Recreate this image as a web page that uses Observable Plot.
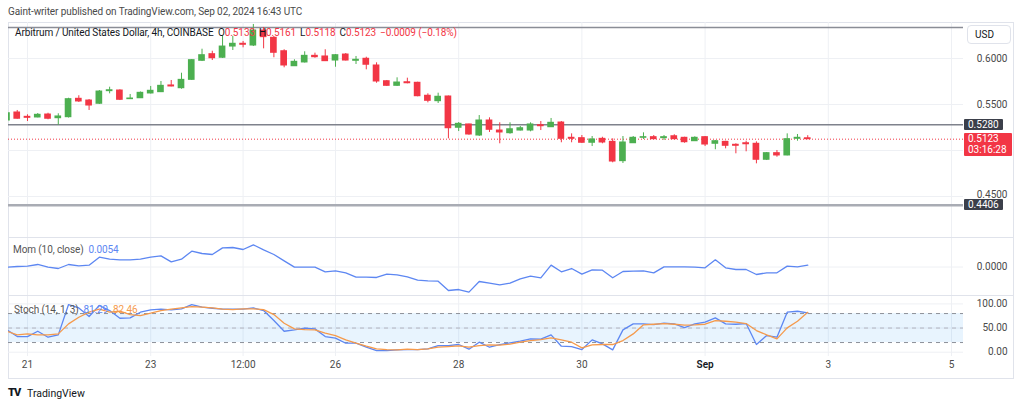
<!DOCTYPE html>
<html><head><meta charset="utf-8">
<script src="https://cdn.jsdelivr.net/npm/d3@7"></script>
<script src="https://cdn.jsdelivr.net/npm/@observablehq/plot@0.6"></script>
<style>
body{margin:0;background:#fff;font-family:Roboto,"Open Sans",sans-serif;width:1024px;height:406px;overflow:hidden;position:relative;}
.abs{position:absolute;white-space:nowrap;}
.lg{font-size:10px;line-height:12px;letter-spacing:-0.1px;}
.badge{position:absolute;color:#fff;font-size:10px;line-height:11px;padding:0 0 0 4px;box-sizing:border-box;}
#ohlc{display:flex;gap:4px;}
</style></head><body>
<div class="abs" style="left:8px;top:6px;font-size:10px;letter-spacing:-0.1px;color:#4a4a4a">Gaint-writer published on TradingView.com, Sep 02, 2024 16:43 UTC</div>
<div class="abs" style="left:8px;top:22px;width:1004px;height:355px;border:1px solid #e0e3eb"></div>
<div class="abs" style="left:8px;top:237px;width:1005px;height:1px;background:#e0e3eb"></div>
<div class="abs" style="left:8px;top:295px;width:1005px;height:1px;background:#e0e3eb"></div>
<div id="price" class="abs" style="left:8px;top:22px"></div>
<div id="mom" class="abs" style="left:8px;top:238px"></div>
<div id="stoch" class="abs" style="left:8px;top:296px"></div>
<div id="overlay"></div>
<div class="abs lg" style="left:15px;top:27px;color:#131722">Arbitrum / United States Dollar, 4h, COINBASE</div>
<div id="ohlc" class="abs lg" style="left:218px;top:27px;color:#131722"></div>
<div class="abs lg" style="left:13px;top:244px;color:#555">Mom (10, close)&nbsp;&nbsp;<span style="color:#5d87f2">0.0054</span></div>
<div class="abs lg" style="left:14px;top:304px;color:#555">Stoch (14, 1, 3)&nbsp;&nbsp;<span style="color:#5d87f2">81.29</span>&nbsp;&nbsp;<span style="color:#f59a4c">82.46</span></div>
<div class="abs" style="left:967px;top:25px;width:44px;height:19px;border:1px solid #e0e3eb;border-radius:4px;box-sizing:border-box;font-size:10px;line-height:17px;padding-left:7px;color:#131722">USD</div>
<div class="abs" style="left:8px;top:386px;font-size:11px;font-weight:900;color:#131722;letter-spacing:-1px">TV</div>
<div class="abs" style="left:27px;top:387px;font-size:10.5px;color:#131722">TradingView</div>
<script>
// ---- data ----
const firstBar = "2024-08-20T16:00:00Z";
const barHours = 4;
const open  = [.5326,.5413,.5366,.5359,.5391,.5351,.5362,.5562,.5543,.5508,.5645,.5652,.5558,.5568,.5620,.5634,.5707,.5677,.5768,.5975,
               .6047,.6008,.6130,.6160,.6141,.6304,.6225,.6079,.5916,.5957,.6029,.6022,.5978,.6043,.5975,.5997,.5924,.5753,.5703,.5742,
               .5736,.5595,.5536,.5587,.5247,.5283,.5163,.5326,.5217,.5188,.5217,.5217,.5275,.5253,.5304,.5138,.5134,.5084,.5127,.5094,
               .4884,.5079,.5138,.5145,.5134,.5155,.5138,.5101,.5145,.5073,.5094,.5062,.5079,.5073,.4899,.4971,.4946,.5127,.5133];
const high  = [.5413,.5435,.5388,.5402,.5405,.5399,.5568,.5595,.5554,.5652,.5688,.5660,.5609,.5636,.5696,.5750,.5761,.5840,.5989,.6101,
               .6079,.6242,.6242,.6185,.6370,.6337,.6239,.6095,.5986,.6073,.6058,.6095,.6043,.6054,.6022,.6014,.5953,.5761,.5790,.5786,
               .5742,.5616,.5623,.5592,.5304,.5286,.5380,.5355,.5301,.5301,.5261,.5301,.5315,.5348,.5315,.5181,.5163,.5152,.5144,.5127,
               .5152,.5152,.5192,.5163,.5163,.5171,.5144,.5149,.5152,.5109,.5101,.5073,.5101,.5094,.4978,.5000,.5181,.5174,.5161];
const low   = [.5315,.5340,.5315,.5355,.5334,.5275,.5353,.5522,.5435,.5500,.5616,.5543,.5554,.5565,.5614,.5630,.5692,.5666,.5761,.5967,
               .5978,.6000,.6087,.6116,.6130,.6105,.6008,.5899,.5913,.5951,.6003,.5967,.5905,.5973,.5935,.5877,.5731,.5696,.5696,.5725,
               .5584,.5518,.5511,.5127,.5206,.5166,.5152,.5196,.5073,.5177,.5212,.5203,.5217,.5250,.5084,.5084,.5076,.5043,.5073,.4866,
               .4859,.5076,.5120,.5120,.5109,.5116,.5079,.5098,.5043,.5008,.5018,.4964,.4986,.4855,.4891,.4927,.4942,.5101,.5118];
const close = [.5405,.5345,.5355,.5388,.5345,.5370,.5558,.5533,.5489,.5641,.5655,.5551,.5565,.5627,.5649,.5703,.5696,.5768,.5982,.6036,
               .6003,.6130,.6160,.6149,.6304,.6232,.6062,.5924,.5964,.6029,.6014,.5971,.6036,.5978,.5986,.5932,.5750,.5703,.5739,.5731,
               .5590,.5540,.5584,.5242,.5290,.5174,.5326,.5225,.5196,.5231,.5242,.5283,.5264,.5301,.5127,.5127,.5084,.5120,.5087,.4880,
               .5087,.5138,.5145,.5123,.5145,.5123,.5090,.5138,.5065,.5101,.5051,.5051,.5068,.4899,.4971,.4946,.5123,.5138,.5123];
const momentum = [-.0005,.0015,.0025,.0075,-.0005,-.0045,.0075,.0035,.0055,.0294,.0234,.0214,.0214,.0234,.0294,.0333,.0154,.0234,.0473,.0403,
               .0373,.0572,.0582,.0522,.0662,.0512,.0373,.0184,-.0005,-.0005,-.0005,-.0144,-.0114,-.0174,-.0303,-.0303,-.0313,-.0214,-.0234,-.0294,
               -.0393,-.0413,-.0423,-.0701,-.0672,-.0751,-.0433,-.0483,-.0532,-.0483,-.0353,-.0274,-.0323,.0055,-.0144,-.0045,-.0214,-.0085,-.0095,-.0323,
               -.0134,-.0124,-.0114,-.0174,.0005,.0005,.0005,-.0005,-.0025,.0214,-.0025,-.0075,-.0075,-.0224,-.0174,-.0174,.0025,.0005,.0054];
const stochK = [46.2,32.4,32.4,43.4,31.0,35.9,98.6,91.7,73.8,96.6,86.2,70.3,71.0,82.8,87.6,89.0,87.6,89.7,98.6,93.1,
               91.0,89.0,89.0,89.0,91.7,86.2,65.5,43.4,46.2,49.7,48.3,32.4,29.0,18.6,18.6,10.3,3.4,3.4,4.8,5.5,
               5.5,6.9,13.8,13.8,15.9,6.2,20.7,10.3,15.9,19.3,22.8,27.6,26.9,35.9,12.4,11.7,5.5,25.5,17.2,4.8,
               46.2,58.6,58.6,57.2,60.0,58.6,51.0,58.6,62.1,71.0,58.6,57.9,59.3,15.9,34.5,31.0,82.8,84.8,81.29];
const stochD = [43.4,35.9,37.9,35.9,35.9,37.9,58.6,72.4,82.8,89.0,82.8,84.8,77.9,75.9,80.7,86.2,89.0,91.7,94.5,93.1,
               91.7,89.0,88.3,89.7,89.7,88.3,77.9,60.0,48.3,46.9,46.2,39.3,34.5,25.5,18.6,12.4,6.9,5.5,4.8,6.2,
               5.5,6.9,10.3,11.7,13.1,10.3,13.8,15.2,14.5,16.6,20.7,24.1,26.2,29.7,25.5,20.7,9.0,15.2,15.9,15.9,
               24.1,37.9,56.6,57.9,59.3,57.9,55.9,56.6,57.9,65.5,64.1,62.1,59.3,44.8,35.9,27.6,50.3,64.1,82.46];
const levelTop = 0.6337, levelResistance = 0.5280, levelSupport = 0.4406;
const lastOHLC = [["O", "0.5133"], ["H", "0.5161"], ["L", "0.5118"], ["C", "0.5123"]];
const lastChange = "−0.0009 (−0.18%)";
const countdown = "03:16:28";
const priceGrid = [0.60, 0.55, 0.50, 0.45];
const priceLabels = [0.60, 0.55, 0.45];
const stochLabels = [100, 50, 0];
const stochBands = [80, 50, 20];
const dateTicks = ["2024-08-21","2024-08-23","2024-08-24T12:00","2024-08-26","2024-08-28","2024-08-30","2024-09-01","2024-09-03","2024-09-05"];
const dateLabels = ["21","23","12:00","26","28","30","Sep","3","5"];

// ---- build ----
const t0 = +new Date(firstBar);
const bars = close.map((c, i) => ({t: new Date(t0 + i*barHours*3600e3), o: open[i], h: high[i], l: low[i], c, m: momentum[i], k: stochK[i], d: stochD[i]}));
const ticks = dateTicks.map(s => new Date(s + "Z"));
const tickRows = ticks.map((t, i) => ({t, label: dateLabels[i]}));
const GREEN = "#4caf50", RED = "#f23645", GRID = "#eef0f4", BLUE = "#5d87f2", ORANGE = "#f59a4c", TXT = "#4a4a4a";
const colorOf = d => d.c >= d.o ? GREEN : RED;
const half = 1.3*3600e3;
const xDomain = [new Date("2024-08-20T16:36:00Z"), new Date("2024-09-05T04:41:00Z")];
const common = {width: 1005, marginLeft: 0, marginRight: 50, marginTop: 0,
  style: {fontFamily: "Roboto, sans-serif", fontSize: "10px", background: "transparent", overflow: "visible"},
  color: {type: "identity"}};
const xOpt = {type: "utc", domain: xDomain, axis: null};

const price = Plot.plot({...common, height: 215, marginBottom: 0, x: xOpt,
  y: {domain: [0.40543, 0.63913], axis: null},
  marks: [
    Plot.ruleX(ticks, {stroke: GRID}),
    Plot.ruleY(priceGrid, {stroke: GRID}),
    Plot.ruleY([levelTop], {stroke: "#8a8d96", strokeWidth: 1.5}),
    Plot.ruleY([levelResistance], {stroke: "#7f828c", strokeWidth: 1.5}),
    Plot.ruleY([levelSupport], {stroke: "#a9acb4", strokeWidth: 2.5}),
    Plot.ruleY([close[close.length-1]], {stroke: RED, strokeDasharray: "1,2", strokeWidth: 1}),
    Plot.ruleX(bars, {x: "t", y1: "l", y2: "h", stroke: colorOf, strokeWidth: 1, clip: true}),
    Plot.rect(bars, {x1: d => new Date(+d.t - half), x2: d => new Date(+d.t + half), y1: "o", y2: "c", fill: colorOf, insetTop: -0.5, insetBottom: -0.5, clip: true}),
    Plot.text(priceLabels.filter(p => p > levelSupport + 0.02), {y: d => d, text: d => d.toFixed(4), frameAnchor: "right", dx: 44, textAnchor: "end", fill: TXT}),
    Plot.text(priceLabels.filter(p => p <= levelSupport + 0.02), {y: d => d, text: d => d.toFixed(4), frameAnchor: "right", dx: 44, dy: -2, textAnchor: "end", fill: TXT})
  ]});
document.getElementById("price").append(price);

const mom = Plot.plot({...common, height: 57, marginBottom: 0, x: xOpt,
  y: {domain: [-0.08507, 0.08507], axis: null},
  marks: [
    Plot.ruleX(ticks, {stroke: GRID}),
    Plot.ruleY([0], {stroke: GRID}),
    Plot.line(bars, {x: "t", y: "m", stroke: BLUE, strokeWidth: 1.3, clip: true}),
    Plot.text([0], {y: d => d, text: d => d.toFixed(4), frameAnchor: "right", dx: 44, textAnchor: "end", fill: TXT})
  ]});
document.getElementById("mom").append(mom);

const stoch = Plot.plot({...common, height: 82, marginBottom: 22, x: xOpt,
  y: {domain: [-8.9, 115.3], axis: null},
  marks: [
    Plot.ruleX(ticks, {stroke: GRID}),
    Plot.ruleY(stochLabels, {stroke: GRID}),
    Plot.rect([stochBands], {x1: () => xDomain[0], x2: () => xDomain[1], y1: b => b[2], y2: b => b[0], fill: "#2196f3", fillOpacity: 0.1}),
    Plot.ruleY(stochBands, {stroke: (d) => d === 50 ? "#b2b5be" : "#8d9099", strokeDasharray: "4,4"}),
    Plot.line(bars, {x: "t", y: "k", stroke: BLUE, strokeWidth: 1.3, clip: true}),
    Plot.line(bars, {x: "t", y: "d", stroke: ORANGE, strokeWidth: 1.3, clip: true}),
    Plot.text(stochLabels, {y: d => d, text: d => d.toFixed(2), frameAnchor: "right", dx: 44, textAnchor: "end", fill: TXT}),
    Plot.text(tickRows.filter(r => r.label !== "Sep"), {x: "t", text: "label", frameAnchor: "bottom", dy: 11, fill: TXT}),
    Plot.text(tickRows.filter(r => r.label === "Sep"), {x: "t", text: "label", frameAnchor: "bottom", dy: 11, fill: "#131722", fontWeight: 600})
  ]});
document.getElementById("stoch").append(stoch);

// legend text (O/H/L/C of the last bar)
const ohlc = document.getElementById("ohlc");
ohlc.innerHTML = lastOHLC.map(([k, v]) => `<span>${k}<span style="color:${RED}">${v}</span></span>`).join("")
  + `<span style="color:${RED}">${lastChange}</span>`;

// price badges positioned through the y scale
const ys = price.scale("y");
const ov = document.getElementById("overlay");
function badge(p, bg, text, h) {
  const y = 22 + ys.apply(p);
  const div = document.createElement("div");
  div.className = "badge";
  div.style.cssText += `left:964px;top:${y - 5.5}px;height:${h}px;background:${bg};width:${h > 13 ? 48 : 39}px;border-radius:1px`;
  div.innerHTML = text;
  ov.append(div);
}
badge(levelResistance, "#3b3f4a", levelResistance.toFixed(4), 11);
badge(levelSupport, "#3b3f4a", levelSupport.toFixed(4), 11);
badge(close[close.length-1], RED, close[close.length-1].toFixed(4) + "<br>" + countdown, 23);
</script>
</body></html>
